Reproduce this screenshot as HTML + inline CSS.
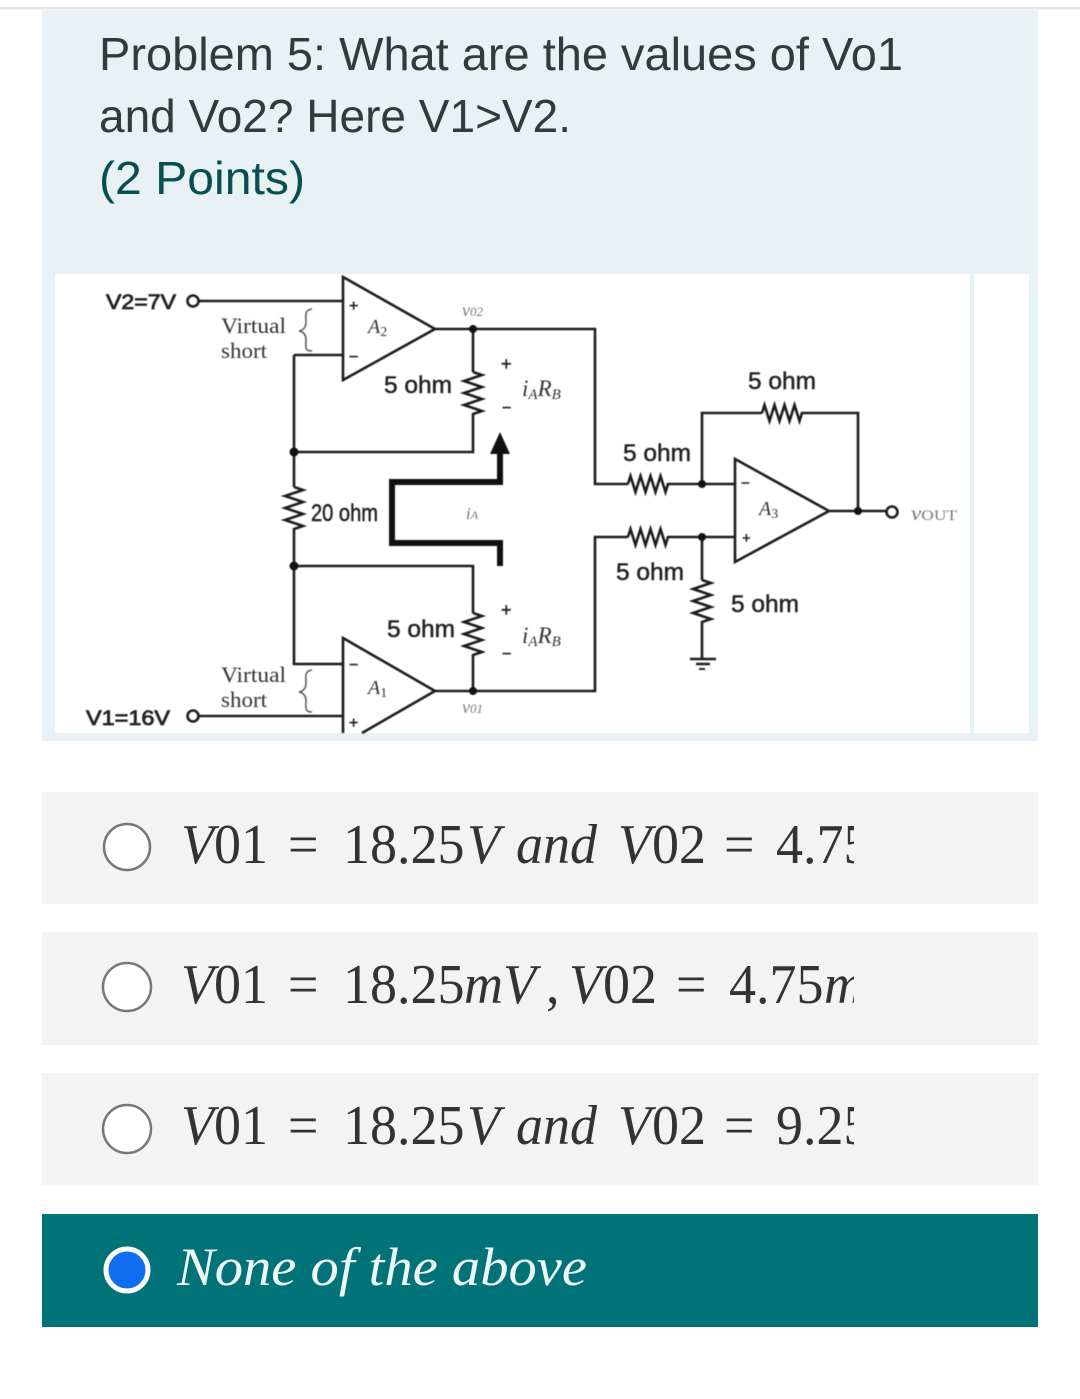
<!DOCTYPE html>
<html>
<head>
<meta charset="utf-8">
<style>
html,body{margin:0;padding:0;background:#fff;width:1080px;height:1399px;overflow:hidden}
svg{display:block}
.t{font-family:"Liberation Sans",sans-serif;font-size:46px;fill:#333a3c}
.o{font-family:"Liberation Serif",serif;font-size:56px;fill:#333}
.i{font-style:italic}
.l{font-family:"Liberation Sans",sans-serif;font-size:24px;fill:#222;stroke:#222;stroke-width:.5}
.s{font-family:"Liberation Serif",serif;font-size:22px;fill:#333}
.m{font-family:"Liberation Serif",serif;font-style:italic;fill:#333}
.g{font-family:"Liberation Serif",serif;font-style:italic;fill:#777}
.w{fill:none;stroke:#1c1c1c;stroke-width:2.6}
.d{fill:#111}
</style>
</head>
<body>
<svg width="1080" height="1399" viewBox="0 0 1080 1399" xmlns="http://www.w3.org/2000/svg">
<defs><clipPath id="c"><rect x="0" y="780" width="854" height="420"/></clipPath></defs>
<rect width="1080" height="1399" fill="#fff"/>
<rect x="0" y="7" width="1080" height="2.5" fill="#e4e4e4"/>
<rect x="42" y="10" width="996" height="731" fill="#e8f1f4"/>
<text class="t" x="99" y="70" textLength="804" lengthAdjust="spacingAndGlyphs">Problem 5: What are the values of Vo1</text>
<text class="t" x="99" y="132" textLength="472" lengthAdjust="spacingAndGlyphs">and Vo2? Here V1&gt;V2.</text>
<text class="t" x="99" y="194" textLength="206" lengthAdjust="spacingAndGlyphs" style="fill:#0a4f50">(2 Points)</text>
<rect x="55" y="274" width="915" height="459" fill="#fff"/>
<rect x="974" y="274" width="55" height="459" fill="#fff"/>

<g style="filter:blur(.4px)">
<!-- A2 -->
<path class="w" d="M343 277V380L435 329Z"/>
<path class="w" d="M199 301H343M294 355H343M294 355V487M294 528V566"/>
<circle class="w" cx="193" cy="301" r="5.5"/>
<path class="w" d="M435 329H595V484H628M473 329V372"/>
<path class="w" d="M473 372l9 3l-18 6l18 6l-18 6l18 6l-18 6l18 6l-9 3V452H294"/>
<circle class="d" cx="473" cy="329" r="4"/>
<circle class="d" cx="294" cy="452" r="4.5"/>
<!-- R 20 -->
<path class="w" d="M294 487l9 3l-18 6l18 6l-18 6l18 6l-18 6l18 6l-9 3"/>
<!-- thick -->
<path fill="none" stroke="#111" stroke-width="6" d="M500 450V482H392V543H500V566"/>
<path class="d" d="M500 432L510 454H490Z"/>
<!-- A1 -->
<path d="M343 638V733H362L435 691Z" fill="#fff"/>
<path class="w" d="M362 733L435 691L343 638V733"/>
<path class="w" d="M294 566H473V613M294 566V664H343M199 716H343"/>
<circle class="w" cx="193" cy="716" r="5.5"/>
<path class="w" d="M473 613l9 3l-18 6l18 6l-18 6l18 6l-18 6l18 6l-9 3V691M435 691H595V537H628"/>
<circle class="d" cx="294" cy="566" r="4.5"/>
<circle class="d" cx="473" cy="691" r="4"/>
<!-- A3 -->
<path class="w" d="M735 459V562L829 511Z"/>
<path class="w" d="M628 484l2.5-8l5 16l5-16l5 16l5-16l5 16l5-16l5 16l2.5-8H735M702 484V413H762"/>
<path class="w" d="M762 413l2.5-8l5 16l5-16l5 16l5-16l5 16l5-16l5 16l2.5-8H858V511M829 511H887"/>
<circle class="w" cx="892" cy="512" r="5.5"/>
<path class="w" d="M628 537l2.5-8l5 16l5-16l5 16l5-16l5 16l5-16l5 16l2.5-8H735M702 537V580"/>
<path class="w" d="M702 580l9 3l-18 6l18 6l-18 6l18 6l-18 6l18 6l-9 3V658M690 659H716M696 664H710"/>
<path fill="none" stroke="#222" stroke-width="2" d="M699 669H705"/>
<circle class="d" cx="702" cy="484" r="4"/>
<circle class="d" cx="702" cy="537" r="4"/>
<circle class="d" cx="858" cy="511" r="4"/>

<!-- braces -->
<path fill="none" stroke="#555" stroke-width="1.5" d="M312 309C304 310 306 316 306 322C306 327 304 330 299 331C304 332 306 335 306 340C306 346 304 351 312 351"/>
<path fill="none" stroke="#555" stroke-width="1.5" d="M312 670C304 671 306 677 306 683C306 688 304 691 299 692C304 693 306 696 306 701C306 707 304 712 312 712"/>

<!-- labels -->
<text class="l" x="106" y="309" textLength="70" lengthAdjust="spacingAndGlyphs" style="font-size:21px;stroke-width:.8">V2=7V</text>
<text class="l" x="86" y="725" textLength="84" lengthAdjust="spacingAndGlyphs" style="font-size:21px;stroke-width:.8">V1=16V</text>
<text class="s" x="221" y="333" textLength="65" lengthAdjust="spacingAndGlyphs">Virtual</text>
<text class="s" x="221" y="358" textLength="46" lengthAdjust="spacingAndGlyphs">short</text>
<text class="s" x="221" y="682" textLength="65" lengthAdjust="spacingAndGlyphs">Virtual</text>
<text class="s" x="221" y="707" textLength="46" lengthAdjust="spacingAndGlyphs">short</text>
<text class="l" x="349" y="311" style="font-size:16px">+</text>
<text class="l" x="349" y="362" style="font-size:16px">−</text>
<text class="l" x="349" y="728" style="font-size:16px">+</text>
<text class="l" x="349" y="670" style="font-size:16px">−</text>
<text class="l" x="741" y="488" style="font-size:15px">−</text>
<text class="l" x="742" y="543" style="font-size:15px">+</text>
<text class="m" x="368" y="333" font-size="20">A<tspan font-size="14" dy="3" font-style="normal">2</tspan></text>
<text class="m" x="368" y="694" font-size="20">A<tspan font-size="14" dy="3" font-style="normal">1</tspan></text>
<text class="m" x="759" y="515" font-size="20">A<tspan font-size="14" dy="3" font-style="normal">3</tspan></text>
<text class="g" x="462" y="316" font-size="18">v<tspan font-size="13">02</tspan></text>
<text class="g" x="462" y="713" font-size="18">v<tspan font-size="13">01</tspan></text>
<text class="g" x="466" y="519" font-size="17">i<tspan font-size="12">A</tspan></text>
<text class="g" x="911" y="520" font-size="20" textLength="46" lengthAdjust="spacingAndGlyphs">v<tspan font-size="15" font-style="normal">OUT</tspan></text>
<text class="l" x="384" y="393" textLength="68" lengthAdjust="spacingAndGlyphs">5 ohm</text>
<text class="l" x="387" y="637" textLength="68" lengthAdjust="spacingAndGlyphs">5 ohm</text>
<text class="l" x="311" y="521" textLength="67" lengthAdjust="spacingAndGlyphs">20 ohm</text>
<text class="l" x="623" y="461" textLength="68" lengthAdjust="spacingAndGlyphs">5 ohm</text>
<text class="l" x="616" y="580" textLength="68" lengthAdjust="spacingAndGlyphs">5 ohm</text>
<text class="l" x="748" y="389" textLength="68" lengthAdjust="spacingAndGlyphs">5 ohm</text>
<text class="l" x="731" y="612" textLength="68" lengthAdjust="spacingAndGlyphs">5 ohm</text>
<text class="l" x="501" y="370" style="font-size:18px">+</text>
<text class="l" x="502" y="413" style="font-size:16px">−</text>
<text class="l" x="501" y="616" style="font-size:18px">+</text>
<text class="l" x="502" y="659" style="font-size:16px">−</text>
<text class="m" x="522" y="396" font-size="23">i<tspan font-size="15" dy="3">A</tspan><tspan dy="-3">R</tspan><tspan font-size="15" dy="3">B</tspan></text>
<text class="m" x="522" y="643" font-size="23">i<tspan font-size="15" dy="3">A</tspan><tspan dy="-3">R</tspan><tspan font-size="15" dy="3">B</tspan></text>
</g>

<!-- options -->
<rect x="42" y="792" width="996" height="112" fill="#f3f3f3"/>
<rect x="42" y="932" width="996" height="113" fill="#f3f3f3"/>
<rect x="42" y="1073" width="996" height="112" fill="#f3f3f3"/>
<rect x="42" y="1214" width="996" height="113" fill="#007378"/>
<ellipse cx="127" cy="847" rx="23" ry="23" fill="#fff" stroke="#777" stroke-width="2.5"/>
<ellipse cx="127" cy="987" rx="24" ry="24" fill="#fff" stroke="#777" stroke-width="2.5"/>
<ellipse cx="127" cy="1129" rx="24" ry="24" fill="#fff" stroke="#777" stroke-width="2.5"/>
<circle cx="127" cy="1270" r="21" fill="#0f6ef0" stroke="#fff" stroke-width="5"/>
<g clip-path="url(#c)">
<g transform="scale(.965,1)">
<text class="o" y="863"><tspan class="i" x="187.6">V</tspan><tspan x="221.8">01</tspan><tspan x="298.4">=</tspan><tspan x="355.4">18.25</tspan><tspan class="i" x="483.9">V</tspan><tspan class="i" x="534.7">and</tspan><tspan class="i" x="640.4">V</tspan><tspan x="675.6">02</tspan><tspan x="750.3">=</tspan><tspan x="804.1">4.75</tspan></text>
<text class="o" y="1003"><tspan class="i" x="187.6">V</tspan><tspan x="221.8">01</tspan><tspan x="298.4">=</tspan><tspan x="355.4">18.25</tspan><tspan class="i" x="480.8">mV</tspan><tspan x="565.8">,</tspan><tspan class="i" x="589.6">V</tspan><tspan x="624.9">02</tspan><tspan x="700.5">=</tspan><tspan x="755.4">4.75</tspan><tspan class="i" x="853.9">mV</tspan></text>
<text class="o" y="1144"><tspan class="i" x="187.6">V</tspan><tspan x="221.8">01</tspan><tspan x="298.4">=</tspan><tspan x="355.4">18.25</tspan><tspan class="i" x="483.9">V</tspan><tspan class="i" x="534.7">and</tspan><tspan class="i" x="640.4">V</tspan><tspan x="675.6">02</tspan><tspan x="750.3">=</tspan><tspan x="804.1">9.25</tspan></text>
</g>
</g>
<text class="o i" x="177" y="1285" textLength="410" lengthAdjust="spacingAndGlyphs" style="font-size:54px;fill:#eef6f6">None of the above</text>
</svg>
</body>
</html>
